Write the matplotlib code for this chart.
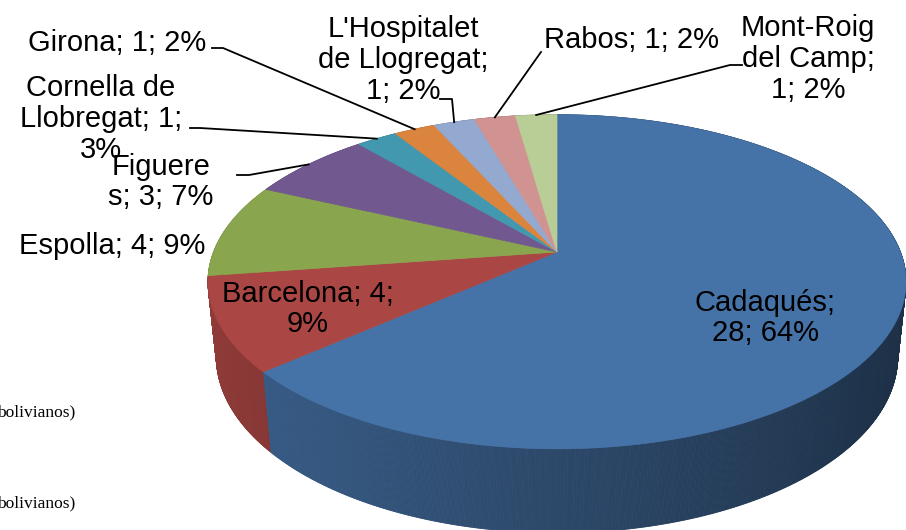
import numpy as np
import matplotlib.pyplot as plt
from matplotlib.collections import PolyCollection
from matplotlib.colors import to_rgb

plt.rcParams['font.family'] = ['Liberation Sans', 'DejaVu Sans']

# data (clockwise from 12 o'clock)
cities = ['Cadaqués', 'Barcelona', 'Espolla', 'Figueres', 'Cornella de Llobregat',
          'Girona', "L'Hospitalet de Llogregat", 'Rabos', 'Mont-Roig del Camp']
counts = [28, 4, 4, 3, 1, 1, 1, 1, 1]
label_texts = ['Cadaqués;\n28; 64%', 'Barcelona; 4;\n9%', 'Espolla; 4; 9%',
               'Figuere\ns; 3; 7%', 'Cornella de\nLlobregat; 1;\n3%', 'Girona; 1; 2%',
               "L'Hospitalet\nde Llogregat;\n1; 2%", 'Rabos; 1; 2%',
               'Mont-Roig\ndel Camp;\n1; 2%']
colors = ['#4572A7', '#AA4643', '#89A54E', '#71588F', '#4198AF',
          '#DB843D', '#93A9CF', '#D19392', '#B9CD96']

# layout: pie apex, perspective
cx, cy = 557, 252
F, D = 1700, 4.95
el = np.radians(28.1)
se, ce = np.sin(el), np.cos(el)
h = 0.25


def project(theta, z):
    X, Y = np.sin(theta), np.cos(theta)
    depth = D + Y * ce - z * se
    return cx + F * X / depth, cy - F * (Y * se + z * ce) / depth


fig = plt.figure(figsize=(9.06, 5.30), dpi=100)
ax = fig.add_axes([0, 0, 1, 1])
ax.set_xlim(0, 906)
ax.set_ylim(530, 0)
ax.axis('off')

vals = np.array(counts, dtype=float)
edges = np.concatenate([[0], np.cumsum(vals)]) / vals.sum() * 2 * np.pi

# side of the cylinder
n = 1440
th = np.linspace(0, 2 * np.pi, n + 1)
quads, qcols, qdepth = [], [], []
for i in range(n):
    a, b = th[i], th[i + 1]
    m = 0.5 * (a + b)
    k = min(np.searchsorted(edges, m) - 1, len(vals) - 1)
    xa, ya = project(a, 0)
    xb, yb = project(b, 0)
    xa2, ya2 = project(a, -h)
    xb2, yb2 = project(b, -h)
    quads.append([(xa, ya), (xb, yb), (xb2, yb2), (xa2, ya2)])
    f = 0.63 - 0.22 * np.sin(m)
    qcols.append(tuple(np.clip(np.array(to_rgb(colors[k])) * f, 0, 1)))
    qdepth.append(np.cos(m))
order = np.argsort(qdepth)[::-1]
pc = PolyCollection([quads[i] for i in order], facecolors=[qcols[i] for i in order],
                    edgecolors=[qcols[i] for i in order], linewidths=0.6)
ax.add_collection(pc)

# top faces
for k in range(len(vals)):
    t = np.linspace(edges[k], edges[k + 1], 200)
    px, py = project(t, 0)
    ax.fill(np.concatenate([[cx], px]), np.concatenate([[cy], py]),
            color=colors[k], lw=0.5, ec=colors[k])

# labels
fs = 21
ls = 1.13
mids = 0.5 * (edges[:-1] + edges[1:])
ax.text(765, 318, label_texts[0], ha='center', va='center', fontsize=fs, linespacing=ls)
ax.text(308, 309, label_texts[1], ha='center', va='center', fontsize=fs, linespacing=ls)
ax.text(112, 246, label_texts[2], ha='center', va='center', fontsize=fs)
ax.text(101, 119, label_texts[4], ha='center', va='center', fontsize=fs, linespacing=ls)
ax.text(161, 182, label_texts[3], ha='center', va='center', fontsize=fs, linespacing=ls)
ax.text(117, 43, label_texts[5], ha='center', va='center', fontsize=fs)
ax.text(403, 60, label_texts[6], ha='center', va='center', fontsize=fs, linespacing=ls)
ax.text(632, 40, label_texts[7], ha='center', va='center', fontsize=fs)
ax.text(808, 59, label_texts[8], ha='center', va='center', fontsize=fs, linespacing=ls)

# leader lines to slice edges
leaders = {3: [(237, 175), (249, 175)], 4: [(190, 128), (200, 128)],
           5: [(212, 48), (223, 48)], 6: [(440, 99), (452, 99)],
           7: [(541, 52)], 8: [(742, 65), (730, 65)]}
for k, pts in leaders.items():
    ex, ey = project(mids[k], 0)
    xs = [p[0] for p in pts] + [ex]
    ys = [p[1] for p in pts] + [ey]
    ax.plot(xs, ys, color='black', lw=1.3)

# stray page text
for yy in (412, 503):
    ax.text(75, yy, 'bolivianos)', ha='right', va='center', fontsize=12.5,
            family=['Liberation Serif', 'DejaVu Serif'])

fig.savefig('out.png', dpi=100)
